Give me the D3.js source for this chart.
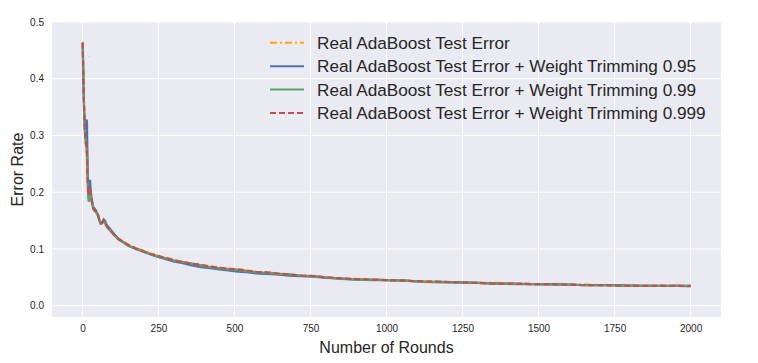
<!DOCTYPE html>
<html>
<head>
<meta charset="utf-8">
<script src="https://cdn.jsdelivr.net/npm/d3@7"></script>
<style>
  body { margin: 0; background: #fff; }
  text { font-family: "Liberation Sans", Arial, sans-serif; fill: #262626; }
</style>
</head>
<body>
<div id="chart"></div>
<script>
const ROUNDS = [1, 3, 5, 7, 9, 11, 13, 15, 17, 19, 21, 23, 25, 27, 30, 33, 36, 40, 44, 48,
                52, 56, 60, 65, 70, 75, 80, 90, 100, 110, 120, 135, 150, 165, 180, 200,
                220, 240, 260, 280, 300, 330, 360, 390, 420, 450, 480, 510, 540, 570, 600,
                640, 680, 720, 760, 800, 850, 900, 950, 1000, 1060, 1120, 1180, 1240, 1300,
                1360, 1420, 1480, 1540, 1600, 1660, 1720, 1780, 1840, 1900, 1960, 2000];

const ERR_PLAIN = [0.465, 0.41, 0.36, 0.325, 0.30, 0.285, 0.29, 0.27, 0.23, 0.205, 0.195, 0.205,
                   0.21, 0.195, 0.19, 0.178, 0.172, 0.170, 0.168, 0.165, 0.160, 0.152, 0.147,
                   0.146, 0.150, 0.147, 0.141, 0.135, 0.128, 0.122, 0.118, 0.113, 0.108, 0.104,
                   0.101, 0.097, 0.093, 0.089, 0.086, 0.084, 0.081, 0.077, 0.074, 0.071, 0.069,
                   0.067, 0.065, 0.064, 0.062, 0.060, 0.059, 0.057, 0.055, 0.053, 0.052, 0.050,
                   0.048, 0.047, 0.046, 0.045, 0.044, 0.043, 0.042, 0.041, 0.040, 0.040, 0.039,
                   0.038, 0.038, 0.037, 0.037, 0.036, 0.036, 0.035, 0.035, 0.035, 0.035];
const ERR_TRIM_95 = [0.462, 0.40, 0.35, 0.32, 0.30, 0.31, 0.328, 0.325, 0.24, 0.21, 0.20, 0.21,
                     0.222, 0.205, 0.19, 0.18, 0.174, 0.171, 0.168, 0.163, 0.158, 0.150, 0.146,
                     0.147, 0.152, 0.149, 0.142, 0.136, 0.129, 0.123, 0.117, 0.112, 0.106, 0.102,
                     0.099, 0.095, 0.091, 0.087, 0.084, 0.081, 0.078, 0.075, 0.071, 0.068, 0.066,
                     0.064, 0.062, 0.060, 0.059, 0.057, 0.056, 0.055, 0.053, 0.052, 0.051, 0.049,
                     0.048, 0.046, 0.046, 0.045, 0.044, 0.042, 0.042, 0.041, 0.040, 0.039, 0.039,
                     0.038, 0.038, 0.037, 0.036, 0.036, 0.036, 0.035, 0.035, 0.035, 0.035];
const ERR_TRIM_99 = [0.463, 0.41, 0.36, 0.32, 0.30, 0.285, 0.28, 0.26, 0.22, 0.19, 0.183, 0.20,
                     0.205, 0.19, 0.185, 0.176, 0.170, 0.167, 0.165, 0.162, 0.157, 0.149, 0.144,
                     0.145, 0.149, 0.145, 0.139, 0.133, 0.127, 0.121, 0.116, 0.111, 0.106, 0.103,
                     0.100, 0.096, 0.092, 0.088, 0.085, 0.083, 0.080, 0.077, 0.074, 0.071, 0.068,
                     0.066, 0.064, 0.063, 0.061, 0.059, 0.058, 0.056, 0.055, 0.053, 0.052, 0.050,
                     0.047, 0.046, 0.045, 0.045, 0.044, 0.042, 0.041, 0.041, 0.040, 0.039, 0.038,
                     0.038, 0.037, 0.037, 0.036, 0.036, 0.035, 0.035, 0.035, 0.035, 0.034];
const ERR_TRIM_999 = [0.464, 0.41, 0.36, 0.33, 0.30, 0.29, 0.285, 0.275, 0.23, 0.20, 0.195, 0.205,
                      0.208, 0.197, 0.188, 0.177, 0.171, 0.169, 0.167, 0.164, 0.159, 0.151, 0.145,
                      0.146, 0.150, 0.146, 0.140, 0.134, 0.127, 0.121, 0.117, 0.112, 0.107, 0.104,
                      0.100, 0.096, 0.092, 0.089, 0.086, 0.083, 0.080, 0.077, 0.074, 0.072, 0.069,
                      0.067, 0.065, 0.064, 0.062, 0.060, 0.059, 0.057, 0.055, 0.053, 0.052, 0.050,
                      0.048, 0.047, 0.046, 0.045, 0.044, 0.043, 0.042, 0.041, 0.040, 0.039, 0.039,
                      0.038, 0.038, 0.037, 0.036, 0.036, 0.035, 0.035, 0.035, 0.035, 0.035];

const SERIES_NAMES = ["Real AdaBoost Test Error",
                      "Real AdaBoost Test Error + Weight Trimming 0.95",
                      "Real AdaBoost Test Error + Weight Trimming 0.99",
                      "Real AdaBoost Test Error + Weight Trimming 0.999"];
const X_TICKS = [0, 250, 500, 750, 1000, 1250, 1500, 1750, 2000];
const Y_TICKS = [0.0, 0.1, 0.2, 0.3, 0.4, 0.5];

const COLOURS = ["#FFA500", "#4C72B0", "#55A868", "#C44E52"];
const DASHES = ["7,3,2,3", null, null, "6,3"];

var width = 758, height = 363;
var margin = {top: 22, right: 37, bottom: 46, left: 52};

var svg = d3.select("#chart")
  .append("svg")
    .attr("width", width)
    .attr("height", height);

var x = d3.scaleLinear()
          .domain([-100, 2100])
          .range([margin.left, width - margin.right]);
var y = d3.scaleLinear()
          .domain([-0.02, 0.5])
          .range([height - margin.bottom, margin.top]);

// plot background
svg.append("rect")
    .attr("x", margin.left)
    .attr("y", margin.top)
    .attr("width", width - margin.left - margin.right)
    .attr("height", height - margin.top - margin.bottom)
    .attr("fill", "#EAEAF2");

// grid
svg.append("g")
  .selectAll("line")
  .data(X_TICKS)
  .enter()
  .append("line")
    .attr("x1", function(d) { return x(d); })
    .attr("x2", function(d) { return x(d); })
    .attr("y1", margin.top)
    .attr("y2", height - margin.bottom)
    .attr("stroke", "#fff")
    .attr("stroke-width", 1);
svg.append("g")
  .selectAll("line")
  .data(Y_TICKS)
  .enter()
  .append("line")
    .attr("x1", margin.left)
    .attr("x2", width - margin.right)
    .attr("y1", function(d) { return y(d); })
    .attr("y2", function(d) { return y(d); })
    .attr("stroke", "#fff")
    .attr("stroke-width", 1);

// axes (labels only, seaborn style)
var xAxis = svg.append("g")
  .attr("transform", "translate(0," + (height - margin.bottom) + ")")
  .call(d3.axisBottom(x).tickValues(X_TICKS).tickFormat(d3.format("d")).tickSize(0).tickPadding(8));
var yAxis = svg.append("g")
  .attr("transform", "translate(" + margin.left + ",0)")
  .call(d3.axisLeft(y).tickValues(Y_TICKS).tickFormat(d3.format(".1f")).tickSize(0).tickPadding(8));
[xAxis, yAxis].forEach(function(a) {
  a.select(".domain").remove();
  a.selectAll("text")
    .attr("font-family", "Liberation Sans, Arial, sans-serif")
    .attr("font-size", "10px")
    .attr("fill", "#4d4d4d");
});

svg.append("text")
    .attr("text-anchor", "middle")
    .attr("x", (margin.left + width - margin.right) / 2)
    .attr("y", 353)
    .attr("font-size", "16px")
    .text("Number of Rounds");
svg.append("text")
    .attr("text-anchor", "middle")
    .attr("transform", "translate(23," + ((margin.top + height - margin.bottom) / 2) + ") rotate(-90)")
    .attr("font-size", "16px")
    .text("Error Rate");

// lines
var allSeries = [ERR_PLAIN, ERR_TRIM_95, ERR_TRIM_99, ERR_TRIM_999];
var line = d3.line()
  .x(function(d) { return x(d[0]); })
  .y(function(d) { return y(d[1]); });

svg.append("g")
  .selectAll("path")
  .data(allSeries)
  .enter()
  .append("path")
    .attr("d", function(s) { return line(ROUNDS.map(function(r, i) { return [r, s[i]]; })); })
    .attr("fill", "none")
    .attr("stroke", function(s, i) { return COLOURS[i]; })
    .attr("stroke-width", 2.2)
    .attr("stroke-dasharray", function(s, i) { return DASHES[i]; });

// legend
var legend = svg.append("g")
  .selectAll("g")
  .data(SERIES_NAMES)
  .enter()
  .append("g")
    .attr("transform", function(d, i) { return "translate(270," + (42.8 + i * 23.4) + ")"; });
legend.append("line")
    .attr("x1", 0)
    .attr("x2", 34)
    .attr("stroke", function(d, i) { return COLOURS[i]; })
    .attr("stroke-width", 2)
    .attr("stroke-dasharray", function(d, i) { return DASHES[i]; });
legend.append("text")
    .attr("x", 47)
    .attr("dy", "0.35em")
    .attr("font-size", "17.2px")
    .text(function(d) { return d; });
</script>
</body>
</html>
